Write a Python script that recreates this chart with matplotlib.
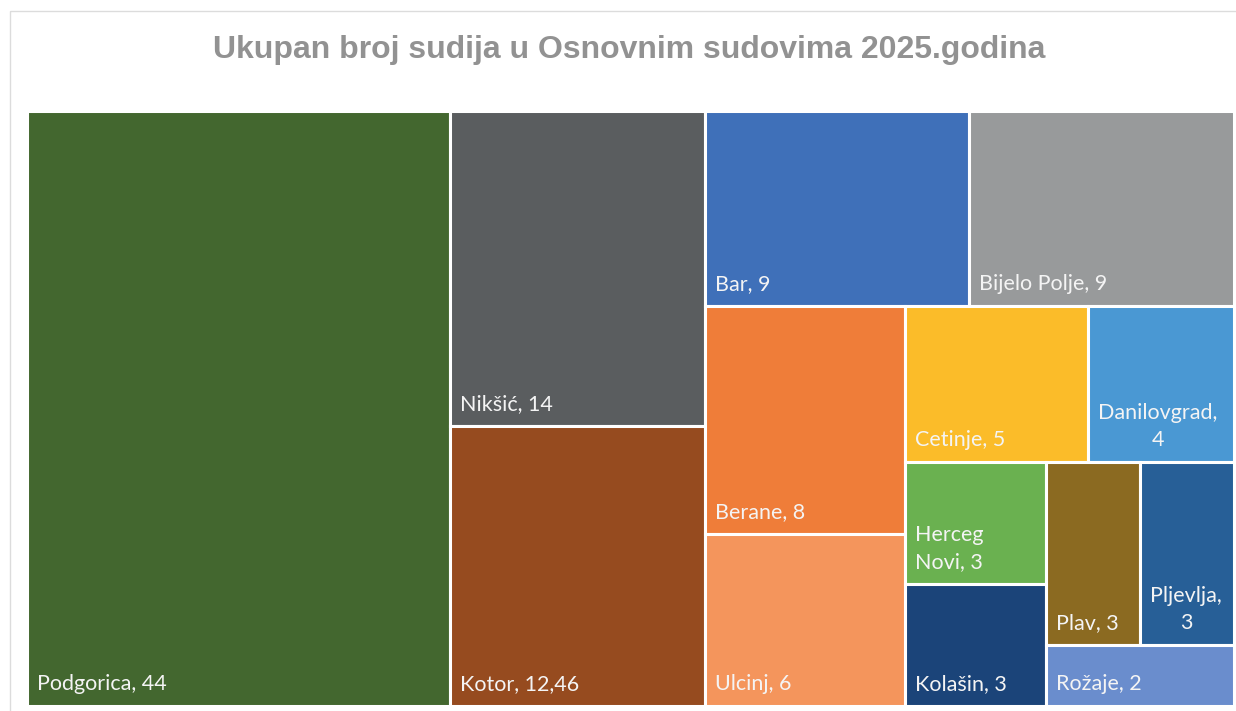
import matplotlib
matplotlib.use("Agg")
import matplotlib.pyplot as plt
from matplotlib.patches import Rectangle

# ---- data ----
title = "Ukupan broj sudija u Osnovnim sudovima 2025.godina"
courts = ["Podgorica", "Nikšić", "Kotor", "Bar", "Bijelo Polje", "Berane", "Ulcinj",
          "Cetinje", "Danilovgrad", "Herceg Novi", "Kolašin", "Plav", "Pljevlja", "Rožaje"]
judges = [44, 14, 12.46, 9, 9, 8, 6, 5, 4, 3, 3, 3, 3, 2]
colors = ["#43672f", "#5a5d5f", "#964b1f", "#3f70b9", "#989a9b", "#ef7d39", "#f4955c",
          "#fbbc29", "#4a98d3", "#6ab150", "#1b4479", "#8b6a21", "#275f97", "#6a8dcd"]

# ---- figure ----
FW, FH = 1236, 711
fig = plt.figure(figsize=(FW / 100, FH / 100), dpi=100)
fig.patch.set_facecolor("white")

# light outer frame of the chart
fig.patches.append(Rectangle((10 / FW, 1 - 11 / FH), 1.2, -1.2, transform=fig.transFigure,
                             fill=False, edgecolor="#dcdcdc", linewidth=1.0))

fig.text(629 / FW, 1 - 58 / FH, title, ha="center", va="baseline",
         fontsize=23, fontweight="bold", color="#929292", family="Liberation Sans")

ax_l, ax_r, ax_t, ax_b = 27, 1234, 111, 706
ax = fig.add_axes([ax_l / FW, 1 - ax_b / FH, (ax_r - ax_l) / FW, (ax_b - ax_t) / FH])
W, H = float(ax_r - ax_l), float(ax_b - ax_t)
ax.set_xlim(0, W)
ax.set_ylim(H, 0)
ax.axis("off")


def worst(row, side):
    s = sum(row)
    return max(max(side * side * r / (s * s), (s * s) / (side * side * r)) for r in row)


def squarify(vals, x, y, w, h):
    total = sum(vals)
    areas = [v * w * h / total for v in vals]
    rects = []
    i = 0
    while i < len(areas):
        side = min(w, h)
        row = [areas[i]]
        j = i + 1
        while j < len(areas) and worst(row + [areas[j]], side) <= worst(row, side):
            row.append(areas[j])
            j += 1
        s = sum(row)
        if w >= h:  # column on the left
            cw = s / h
            yy = y
            for a in row:
                rh = a / cw
                rects.append((x, yy, cw, rh))
                yy += rh
            x += cw
            w -= cw
        else:  # row on top
            rh = s / w
            xx = x
            for a in row:
                rw = a / rh
                rects.append((xx, y, rw, rh))
                xx += rw
            y += rh
            h -= rh
        i = j
    return rects


rects = squarify(judges, 0.0, 0.0, W, H)

for (x, y, w, h), c in zip(rects, colors):
    ax.add_patch(Rectangle((x, y), w, h, facecolor=c, edgecolor="white", linewidth=2.2))

fig.canvas.draw()
renderer = fig.canvas.get_renderer()
pad = 10
for (x, y, w, h), name, v in zip(rects, courts, judges):
    label = f"{name}, {v:g}".replace(".", ",")
    t = ax.text(x + pad, y + h - 12, label, ha="left", va="bottom", color="#f4f4f4",
                fontsize=15.5, family="Lato", multialignment="center", linespacing=1.45)
    bb = t.get_window_extent(renderer)
    if bb.width + 2 * pad > w:
        t.set_text(label.replace(" ", "\n", 1))

fig.savefig("out.png", dpi=100)
